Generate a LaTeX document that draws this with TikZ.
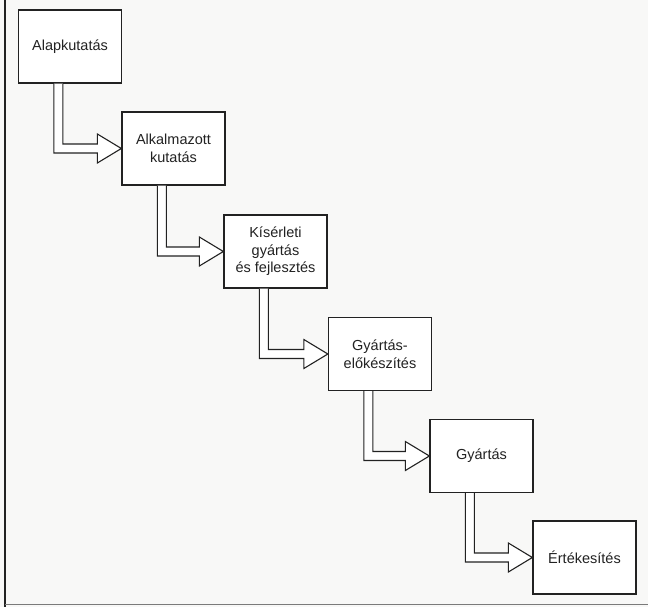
\documentclass[tikz,border=0pt]{standalone}
\usepackage{fontspec}
\setmainfont{Liberation Sans}
\usetikzlibrary{calc}
\definecolor{bg}{HTML}{F8F8F7}
\definecolor{ink}{HTML}{222222}
\tikzset{
  stage/.style={draw=ink, line width=1.3pt, fill=white, minimum width=103pt, minimum height=73pt,
    inner sep=2pt, align=center, font=\fontsize{14.5}{17.5}\selectfont, text=ink},
  hollow/.style={draw=ink, line width=1.1pt, fill=white, line join=miter}
}
\newcommand{\flowarrow}[2]{%
  \draw[hollow] let \p1=(#1.south west), \p2=(#2.west) in
    (\x1+36pt,\y1) -- (\x1+36pt,\y2-4.5pt) -- (\x2-24pt,\y2-4.5pt) -- (\x2-24pt,\y2-14.5pt)
    -- (\x2,\y2) -- (\x2-24pt,\y2+14.5pt) -- (\x2-24pt,\y2+4.5pt) -- (\x1+45pt,\y2+4.5pt)
    -- (\x1+45pt,\y1);}
\begin{document}
\begin{tikzpicture}[x=1pt,y=-1pt]
\fill[bg] (0,0) rectangle (648,607);
\useasboundingbox (0,0) rectangle (648,607);
\draw[ink, line width=1.6pt] (5,0) -- (5,607);
\draw[ink!60, line width=0.8pt] (5,604) -- (648,604);
\node[stage] (a) at (70,46.5) {Alapkutatás};
\node[stage] (b) at (173.5,148.5) {Alkalmazott\\kutatás};
\node[stage] (c) at (275.5,251.5) {Kísérleti\\gyártás\\és fejlesztés};
\node[stage] (d) at (380,354) {Gyártás-\\előkészítés};
\node[stage] (e) at (481.5,456) {Gyártás};
\node[stage] (f) at (584.5,557.5) {Értékesítés};
\flowarrow{a}{b}
\flowarrow{b}{c}
\flowarrow{c}{d}
\flowarrow{d}{e}
\flowarrow{e}{f}
\end{tikzpicture}
\end{document}
